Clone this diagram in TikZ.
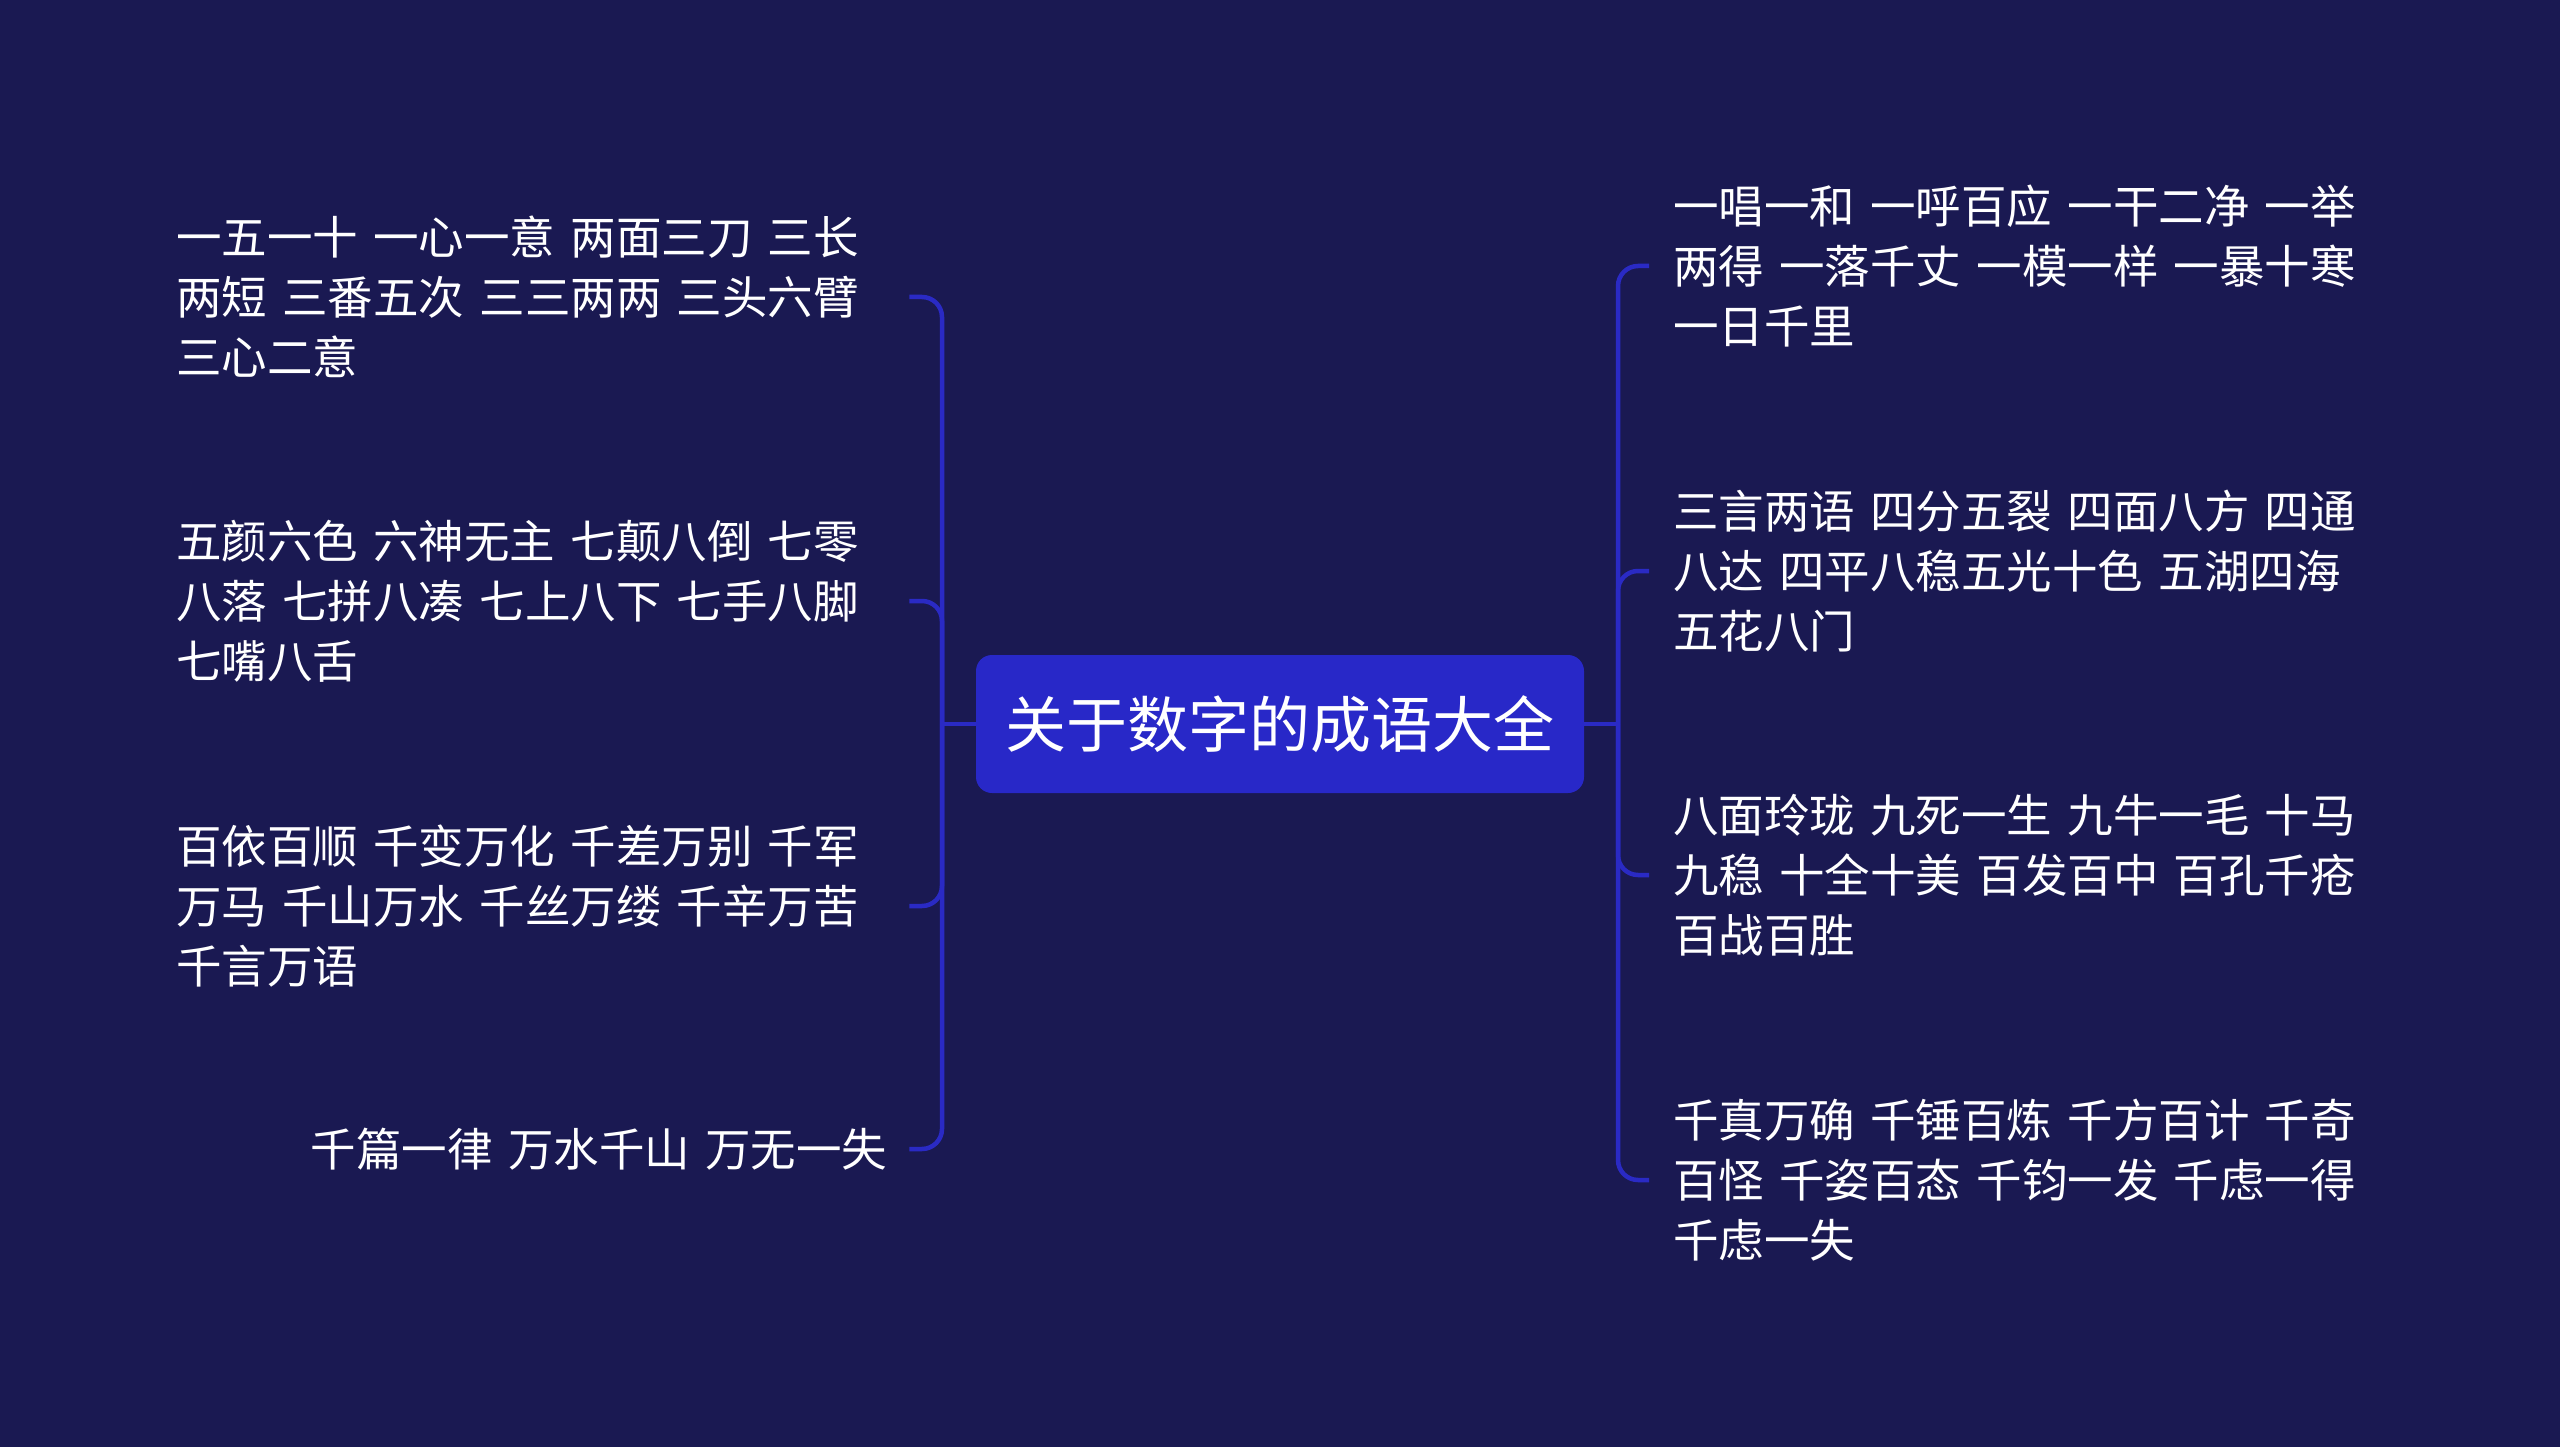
\documentclass[tikz,border=0pt]{standalone}
\usepackage{fontspec}
\newfontfamily\cjk{Noto Sans CJK SC}
\definecolor{bgnavy}{RGB}{26,25,82}
\definecolor{rootblue}{RGB}{40,40,200}
\definecolor{linkblue}{RGB}{42,42,196}
\begin{document}
\begin{tikzpicture}[x=1pt,y=-1pt,
 root/.style={rectangle,fill=rootblue,rounded corners=16pt,minimum width=608pt,
              minimum height=138pt,text=white,font=\cjk\fontsize{61}{72}\selectfont},
 leaf/.style={text=white,inner ysep=0pt,align=left,
              font=\cjk\fontsize{45.5}{60}\selectfont},
 lleaf/.style={leaf,anchor=west,text width=711pt,inner xsep=22pt},
 rleaf/.style={leaf,anchor=west,text width=720pt,inner xsep=24pt},
 link/.style={linkblue,line width=4.5pt,rounded corners=20pt}]
\fill[bgnavy] (0,0) rectangle (2560,1447);
\useasboundingbox (0,0) rectangle (2560,1447);
\node[root] (root) at (1280,724) {关于数字的成语大全};
% left side
\node[lleaf] (l1) at (154,297) {一五一十 一心一意 两面三刀 三长\\两短 三番五次 三三两两 三头六臂\\三心二意};
\node[lleaf] (l2) at (154,601) {五颜六色 六神无主 七颠八倒 七零\\八落 七拼八凑 七上八下 七手八脚\\七嘴八舌};
\node[lleaf] (l3) at (154,906) {百依百顺 千变万化 千差万别 千军\\万马 千山万水 千丝万缕 千辛万苦\\千言万语};
\node[lleaf,align=right] (l4) at (154,1149) {千篇一律 万水千山 万无一失};
% right side
\node[rleaf] (r1) at (1649,266) {一唱一和 一呼百应 一干二净 一举\\两得 一落千丈 一模一样 一暴十寒\\一日千里};
\node[rleaf] (r2) at (1649,571) {三言两语 四分五裂 四面八方 四通\\八达 四平八稳五光十色 五湖四海\\五花八门};
\node[rleaf] (r3) at (1649,875) {八面玲珑 九死一生 九牛一毛 十马\\九稳 十全十美 百发百中 百孔千疮\\百战百胜};
\node[rleaf] (r4) at (1649,1180) {千真万确 千锤百炼 千方百计 千奇\\百怪 千姿百态 千钧一发 千虑一得\\千虑一失};
\coordinate (ls) at (942,724);
\coordinate (rs) at (1618,724);
\draw[link] (root.west) -- (ls);
\draw[link] (root.east) -- (rs);
\foreach \n in {l1,l2,l3,l4} \draw[link] (\n.east) -- (\n.east -| ls) -- (ls);
\foreach \n in {r1,r2,r3,r4} \draw[link] (\n.west) -- (\n.west -| rs) -- (rs);
\end{tikzpicture}
\end{document}
